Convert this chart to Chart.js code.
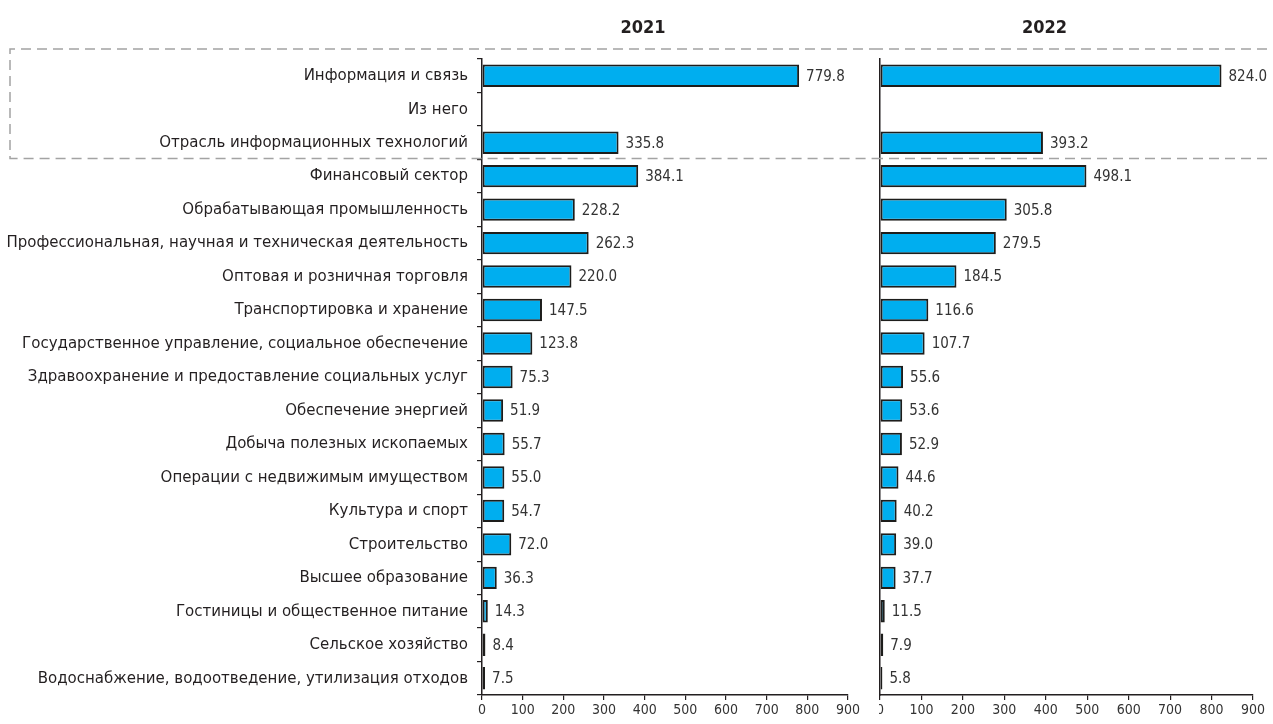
<!DOCTYPE html>
<html>
<head>
<meta charset="utf-8">
<script src="https://cdn.jsdelivr.net/npm/chart.js@4.4.0/dist/chart.umd.min.js"></script>
<style>
  html, body { margin: 0; padding: 0; background: #fff; }
  #wrap1 { position: absolute; left: 0; top: 0; width: 879px; height: 724px; }
  #wrap2 { position: absolute; left: 879px; top: 0; width: 394px; height: 724px; overflow: hidden; }
  #c2box { position: absolute; left: -6px; top: 0; width: 400px; height: 724px; }
</style>
</head>
<body>
<div id="wrap1"><canvas id="c1"></canvas></div>
<div id="wrap2"><div id="c2box"><canvas id="c2"></canvas></div></div>
<script>
const categories = [
  'Информация и связь',
  'Из него',
  'Отрасль информационных технологий',
  'Финансовый сектор',
  'Обрабатывающая промышленность',
  'Профессиональная, научная и техническая деятельность',
  'Оптовая и розничная торговля',
  'Транспортировка и хранение',
  'Государственное управление, социальное обеспечение',
  'Здравоохранение и предоставление социальных услуг',
  'Обеспечение энергией',
  'Добыча полезных ископаемых',
  'Операции с недвижимым имуществом',
  'Культура и спорт',
  'Строительство',
  'Высшее образование',
  'Гостиницы и общественное питание',
  'Сельское хозяйство',
  'Водоснабжение, водоотведение, утилизация отходов'
]
const values2021 = [779.8, null, 335.8, 384.1, 228.2, 262.3, 220.0, 147.5, 123.8, 75.3, 51.9, 55.7, 55.0, 54.7, 72.0, 36.3, 14.3, 8.4, 7.5]
const values2022 = [824.0, null, 393.2, 498.1, 305.8, 279.5, 184.5, 116.6, 107.7, 55.6, 53.6, 52.9, 44.6, 40.2, 39.0, 37.7, 11.5, 7.9, 5.8]
const xTicks = [0, 100, 200, 300, 400, 500, 600, 700, 800, 900]
const years = ['2021', '2022']

const FONT = "'Liberation Sans Narrow', 'DejaVu Sans Condensed', 'Arial Narrow', sans-serif"
const INK = '#231f20'

// value labels, year title and the dashed frame round the IT rows
const decor = {
  id: 'decor',
  beforeDatasetsDraw (chart, args, opts) {
    const { ctx, chartArea, scales } = chart
    const top = chartArea.top - 10
    const bottom = (scales.y.getPixelForValue(2) + scales.y.getPixelForValue(3)) / 2 - 1
    ctx.save()
    ctx.strokeStyle = '#a3a3a3'
    ctx.lineWidth = 1.5
    ctx.setLineDash([10, 6])
    ctx.beginPath()
    if (opts.left) {
      ctx.moveTo(chart.width, top)
      ctx.lineTo(10, top)
      ctx.lineTo(10, bottom)
      ctx.lineTo(chart.width, bottom)
    } else {
      ctx.moveTo(0, top)
      ctx.lineTo(chart.width, top)
      ctx.moveTo(0, bottom)
      ctx.lineTo(chart.width, bottom)
    }
    ctx.stroke()
    ctx.restore()
  },
  afterDatasetsDraw (chart, args, opts) {
    const { ctx, chartArea } = chart
    const meta = chart.getDatasetMeta(0)
    const data = chart.data.datasets[0].data
    ctx.save()
    ctx.fillStyle = '#333'
    ctx.font = '15px ' + FONT
    ctx.textBaseline = 'middle'
    ctx.textAlign = 'left'
    meta.data.forEach((bar, i) => {
      if (data[i] == null) return
      ctx.fillText(data[i].toFixed(1), bar.x + 7, bar.y + 1)
    })
    ctx.fillStyle = INK
    ctx.font = 'bold 18px ' + FONT
    ctx.textAlign = 'center'
    ctx.fillText(opts.title, (chartArea.left + chartArea.right) / 2 - 22, 28)
    ctx.restore()
  }
}

const makeChart = (id, values, { title, left, yWidth, padRight }) =>
  new Chart(document.getElementById(id), {
    type: 'bar',
    data: {
      labels: categories,
      datasets: [{
        data: values,
        backgroundColor: '#00aeef',
        borderColor: '#1d1d1b',
        borderWidth: 2,
        borderSkipped: false,
        barPercentage: 0.67,
        categoryPercentage: 1
      }]
    },
    options: {
      indexAxis: 'y',
      responsive: true,
      maintainAspectRatio: false,
      animation: false,
      layout: { padding: { top: 59, right: padRight, left: 0, bottom: 0 } },
      plugins: {
        legend: { display: false },
        tooltip: { enabled: false },
        decor: { title, left }
      },
      scales: {
        x: {
          min: 0,
          max: 900,
          afterBuildTicks: scale => { scale.ticks = xTicks.map(value => ({ value })) },
          afterFit: scale => { scale.height = 29 },
          grid: { drawOnChartArea: false, color: INK, tickLength: 5, lineWidth: 1.2 },
          border: { color: INK, width: 1.5 },
          ticks: { color: '#333', font: { family: FONT, size: 14 }, padding: 2, maxRotation: 0, autoSkip: false }
        },
        y: {
          afterFit: scale => { scale.width = yWidth },
          grid: left
            ? { drawOnChartArea: false, color: INK, tickLength: 5, lineWidth: 1.2, offset: true }
            : { display: false },
          border: { color: INK, width: 1.5 },
          ticks: left
            ? { color: INK, font: { family: FONT, size: 16.7 }, padding: 9, autoSkip: false }
            : { display: false }
        }
      }
    },
    plugins: [decor]
  })

makeChart('c1', values2021, { title: years[0], left: true, yWidth: 482, padRight: 31 })
makeChart('c2', values2022, { title: years[1], left: false, yWidth: 7, padRight: 20 })
</script>
</body>
</html>
